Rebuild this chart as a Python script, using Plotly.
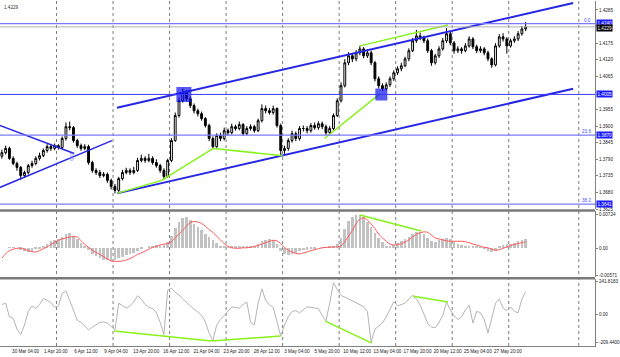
import plotly.graph_objects as go

# ---------------- price data (one candle = 8 hours) ----------------
opens = [
    1.3800, 1.3812, 1.3826, 1.3793, 1.3776, 1.3763, 1.3736, 1.3746, 1.3769, 1.3776,
    1.3793, 1.3802, 1.3819, 1.3832, 1.3826, 1.3835, 1.3829, 1.3859, 1.3898, 1.3895,
    1.3852, 1.3835, 1.3826, 1.3832, 1.3779, 1.3753, 1.3746, 1.3736, 1.3740, 1.3720,
    1.3700, 1.3687, 1.3726, 1.3746, 1.3753, 1.3746, 1.3753, 1.3786, 1.3793, 1.3786,
    1.3793, 1.3779, 1.3769, 1.3753, 1.3733, 1.3786, 1.3852, 1.3935, 1.3984, 1.4011,
    1.3991, 1.3968, 1.3951, 1.3941, 1.3925, 1.3902, 1.3859, 1.3832, 1.3869, 1.3859,
    1.3885, 1.3878, 1.3898, 1.3892, 1.3905, 1.3875, 1.3892, 1.3898, 1.3885, 1.3918,
    1.3958, 1.3951, 1.3945, 1.3958, 1.3902, 1.3819, 1.3826, 1.3852, 1.3875, 1.3859,
    1.3892, 1.3892, 1.3885, 1.3902, 1.3895, 1.3908, 1.3898, 1.3878, 1.3892, 1.3935,
    1.3984, 1.4034, 1.4110, 1.4133, 1.4123, 1.4143, 1.4156, 1.4133, 1.4143, 1.4110,
    1.4057, 1.4034, 1.4024, 1.4037, 1.4057, 1.4077, 1.4090, 1.4100, 1.4123, 1.4150,
    1.4183, 1.4199, 1.4192, 1.4183, 1.4150, 1.4110, 1.4133, 1.4156, 1.4183, 1.4206,
    1.4176, 1.4150, 1.4156, 1.4150, 1.4166, 1.4189, 1.4163, 1.4150, 1.4156, 1.4143,
    1.4123, 1.4103, 1.4166, 1.4196, 1.4189, 1.4166, 1.4183, 1.4189, 1.4206, 1.4222,
]
highs = [
    1.3822, 1.3835, 1.3832, 1.3800, 1.3782, 1.3768, 1.3752, 1.3775, 1.3785, 1.3800,
    1.3812, 1.3826, 1.3840, 1.3838, 1.3842, 1.3840, 1.3866, 1.3912, 1.3915, 1.3900,
    1.3858, 1.3842, 1.3840, 1.3838, 1.3785, 1.3760, 1.3755, 1.3748, 1.3746, 1.3726,
    1.3708, 1.3732, 1.3755, 1.3762, 1.3760, 1.3765, 1.3795, 1.3805, 1.3800, 1.3808,
    1.3800, 1.3790, 1.3775, 1.3760, 1.3792, 1.3860, 1.3945, 1.3995, 1.4024, 1.4018,
    1.3998, 1.3975, 1.3958, 1.3948, 1.3930, 1.3908, 1.3866, 1.3876, 1.3878, 1.3895,
    1.3892, 1.3908, 1.3905, 1.3915, 1.3910, 1.3900, 1.3906, 1.3904, 1.3925, 1.3972,
    1.3968, 1.3960, 1.3968, 1.3962, 1.3908, 1.3835, 1.3860, 1.3885, 1.3882, 1.3900,
    1.3902, 1.3900, 1.3910, 1.3912, 1.3916, 1.3915, 1.3905, 1.3900, 1.3942, 1.3992,
    1.4045, 1.4122, 1.4145, 1.4142, 1.4152, 1.4166, 1.4162, 1.4155, 1.4150, 1.4116,
    1.4065, 1.4042, 1.4045, 1.4065, 1.4085, 1.4098, 1.4110, 1.4130, 1.4158, 1.4192,
    1.4219, 1.4210, 1.4200, 1.4190, 1.4156, 1.4140, 1.4165, 1.4192, 1.4225, 1.4212,
    1.4182, 1.4165, 1.4162, 1.4175, 1.4198, 1.4195, 1.4170, 1.4165, 1.4162, 1.4150,
    1.4128, 1.4175, 1.4205, 1.4208, 1.4195, 1.4190, 1.4198, 1.4215, 1.4232, 1.4245,
]
lows = [
    1.3792, 1.3806, 1.3788, 1.3770, 1.3752, 1.3722, 1.3728, 1.3740, 1.3762, 1.3770,
    1.3786, 1.3797, 1.3812, 1.3818, 1.3820, 1.3822, 1.3824, 1.3852, 1.3886, 1.3845,
    1.3828, 1.3818, 1.3820, 1.3772, 1.3745, 1.3738, 1.3728, 1.3730, 1.3712, 1.3690,
    1.3677, 1.3682, 1.3720, 1.3740, 1.3738, 1.3740, 1.3748, 1.3780, 1.3778, 1.3780,
    1.3772, 1.3762, 1.3745, 1.3722, 1.3728, 1.3780, 1.3848, 1.3928, 1.3978, 1.3982,
    1.3960, 1.3942, 1.3932, 1.3918, 1.3895, 1.3850, 1.3826, 1.3828, 1.3850, 1.3852,
    1.3868, 1.3872, 1.3885, 1.3886, 1.3868, 1.3870, 1.3885, 1.3878, 1.3880, 1.3912,
    1.3942, 1.3938, 1.3938, 1.3895, 1.3802, 1.3808, 1.3818, 1.3845, 1.3850, 1.3852,
    1.3882, 1.3876, 1.3878, 1.3888, 1.3888, 1.3890, 1.3870, 1.3872, 1.3886, 1.3930,
    1.3978, 1.4028, 1.4102, 1.4112, 1.4115, 1.4135, 1.4125, 1.4126, 1.4102, 1.4048,
    1.4025, 1.4016, 1.4018, 1.4030, 1.4050, 1.4070, 1.4082, 1.4095, 1.4115, 1.4145,
    1.4176, 1.4185, 1.4175, 1.4142, 1.4100, 1.4104, 1.4126, 1.4150, 1.4176, 1.4168,
    1.4140, 1.4142, 1.4140, 1.4145, 1.4160, 1.4155, 1.4142, 1.4143, 1.4135, 1.4115,
    1.4093, 1.4098, 1.4160, 1.4180, 1.4140, 1.4160, 1.4176, 1.4182, 1.4200, 1.4215,
]
closes = [
    1.3812, 1.3826, 1.3793, 1.3776, 1.3763, 1.3736, 1.3746, 1.3769, 1.3776, 1.3793,
    1.3802, 1.3819, 1.3832, 1.3826, 1.3835, 1.3829, 1.3859, 1.3898, 1.3895, 1.3852,
    1.3835, 1.3826, 1.3832, 1.3779, 1.3753, 1.3746, 1.3736, 1.3740, 1.3720, 1.3700,
    1.3687, 1.3726, 1.3746, 1.3753, 1.3746, 1.3753, 1.3786, 1.3793, 1.3786, 1.3793,
    1.3779, 1.3769, 1.3753, 1.3733, 1.3786, 1.3852, 1.3935, 1.3984, 1.4011, 1.3991,
    1.3968, 1.3951, 1.3941, 1.3925, 1.3902, 1.3859, 1.3832, 1.3869, 1.3859, 1.3885,
    1.3878, 1.3898, 1.3892, 1.3905, 1.3875, 1.3892, 1.3898, 1.3885, 1.3918, 1.3958,
    1.3951, 1.3945, 1.3958, 1.3902, 1.3819, 1.3826, 1.3852, 1.3875, 1.3859, 1.3892,
    1.3892, 1.3885, 1.3902, 1.3895, 1.3908, 1.3898, 1.3878, 1.3892, 1.3935, 1.3984,
    1.4034, 1.4110, 1.4133, 1.4123, 1.4143, 1.4156, 1.4133, 1.4143, 1.4110, 1.4057,
    1.4034, 1.4024, 1.4037, 1.4057, 1.4077, 1.4090, 1.4100, 1.4123, 1.4150, 1.4183,
    1.4199, 1.4192, 1.4183, 1.4150, 1.4110, 1.4133, 1.4156, 1.4183, 1.4206, 1.4176,
    1.4150, 1.4156, 1.4150, 1.4166, 1.4189, 1.4163, 1.4150, 1.4156, 1.4143, 1.4123,
    1.4103, 1.4166, 1.4196, 1.4189, 1.4166, 1.4183, 1.4189, 1.4206, 1.4222, 1.4229,
]

# ---------------- MACD (units of 0.0001) ----------------
macd_hist_e4 = [
    0, 0, 1, 1, 0, -4, -7, -8, -6, -3,
    -1, 2, 8, 14, 17, 19, 24, 30, 32, 25,
    18, 10, 3, -4, -12, -18, -22, -25, -26, -27,
    -26, -22, -19, -16, -13, -10, -6, -3, 0, 3,
    5, 6, 5, 6, 12, 25, 42, 55, 64, 66,
    60, 52, 45, 38, 30, 24, 16, 10, 5, 2,
    1, 2, 2, 3, 2, 2, 3, 5, 9, 14,
    17, 18, 16, 8, -6, -14, -15, -12, -10, -7,
    -5, -4, -2, -1, 0, 1, 1, 2, 3, 8,
    22, 40, 58, 66, 70, 71, 66, 55, 45, 32,
    22, 12, 5, 4, 6, 10, 14, 18, 24, 30,
    35, 34, 30, 22, 14, 13, 16, 20, 21, 18,
    12, 8, 6, 5, 4, 3, 2, 1, -2, -6,
    -9, -6, 2, 6, 8, 9, 11, 14, 17, 19,
]
macd_signal_e4 = [
    -21, -12, -5, -2, 0, 0, -2, -5, -7, -8,
    -5, -1, 3, 8, 13, 17, 20, 22, 24, 25,
    24, 16, 8, 2, -4, -9, -13, -18, -23, -27,
    -28, -28, -27, -25, -22, -18, -13, -10, -6, -2,
    2, 4, 7, 9, 10, 14, 22, 30, 38, 48,
    55, 57, 56, 53, 47, 40, 34, 26, 18, 10,
    4, 1, 0, 0, 1, 1, 2, 4, 6, 9,
    12, 15, 17, 16, 10, 2, -4, -8, -11, -12,
    -10, -8, -5, -3, -1, 1, 2, 2, 3, 3,
    5, 14, 26, 38, 52, 62, 65, 60, 52, 42,
    30, 22, 15, 9, 7, 8, 10, 13, 18, 24,
    30, 33, 35, 34, 28, 22, 20, 18, 16, 15,
    15, 15, 15, 14, 12, 9, 7, 4, 2, 1,
    -2, -4, -3, 0, 3, 6, 8, 10, 12, 14,
]

# ---------------- CCI ----------------
cci = [
    70, 80, -20, -30, -110, -150, -80, 20, 60, 40,
    70, 115, 100, 85, 50, 60, 150, 170, 100, 20,
    -45, -60, -85, -115, -95, -80, -60, -58, -65, -90,
    -117, 80, 60, 44, 60, 90, 135, 110, 70, 50,
    40, 10, -60, -150, 175, 190, 160, 140, 110, 88,
    60, 35, 17, -10, -56, -140, -195, -80, -40, -10,
    25, 53, 48, 44, 70, 88, -60, -80, 80, 185,
    100, 66, 50, -60, -160, -80, -20, 20, 25, 10,
    30, 53, 50, 46, 40, -10, -50, 80, 230, 180,
    135, 125, 110, 100, 85, 70, 55, 20, -205, -110,
    -85, -65, -20, 40, 90, 60, 70, 80, 110, 139,
    110, 66, 0, -70, -95, -100, -60, -10, 88, 30,
    -10, -40, -20, 30, 66, -66, 20, 10, -40, -139,
    -30, 80, 110, 44, 25, 53, 20, 10, 110, 163,
]

# ---------------- time labels ----------------
time_labels = ["30 Mar 04:00", "1 Apr 20:00", "6 Apr 12:00", "9 Apr 04:00",
               "13 Apr 20:00", "16 Apr 12:00", "21 Apr 04:00", "23 Apr 20:00",
               "28 Apr 12:00", "3 May 04:00", "5 May 20:00", "10 May 12:00",
               "13 May 04:00", "17 May 20:00", "20 May 12:00", "25 May 04:00",
               "27 May 20:00"]
first_label_idx = 6.3        # candle index of first label
candles_per_label = 8        # 64 trading hours / 8h
week_grid_idx = [14.5 + 15 * m for m in range(9)] + [153.1]

price_ticks = [1.4285, 1.4175, 1.4120, 1.4065, 1.3955, 1.3900, 1.3845,
               1.3790, 1.3735, 1.3680, 1.3625]

# ---------------- drawn objects (index, price) ----------------
fib_levels = [1.4240, 1.3870, 1.3641]
fib_names = ["0.0", "23.6", "38.2"]
hline_level = 1.4005
bid_price = 1.4229

upper_channel_idx, upper_channel_price = [30.55, 151.6], [1.3961, 1.4308]
lower_channel_idx, lower_channel_price = [30.55, 151.6], [1.3677, 1.4024]
tri_down_idx, tri_down_price = [-2, 19.2], [1.3909, 1.3809]
tri_up_idx, tri_up_price = [-2, 29.2], [1.3689, 1.3852]

green_main = [
    ([30.55, 42.4, 56.1], [1.3677, 1.3720, 1.3826]),
    ([56.1, 74.5], [1.3826, 1.3802]),
    ([85.6, 100.3], [1.3859, 1.4007]),
    ([95.0, 118.4], [1.4166, 1.4235]),
]
green_macd = [([95.0, 111.3], [71, 37])]
green_cci = [
    ([29.8, 55.6], [-124, -197]),
    ([55.6, 74.0], [-197, -161]),
    ([85.8, 98.2], [-51, -212]),
    ([109.2, 118.4], [131, 88]),
]
signal_box_idx = [48.3, 100.7]
signal_box_price = [1.4005, 1.4005]
signal_box_size = [15, 12]
down_arrow_idx, down_arrow_price = 18.4, 1.3796

# ---------------- figure ----------------
idx = list(range(len(closes)))
BLUE = "#2626e6"
GREEN = "#86f21a"
FS = 4.6

fig = go.Figure()

fig.add_trace(go.Candlestick(
    x=idx, open=opens, high=highs, low=lows, close=closes,
    increasing=dict(line=dict(color="black", width=1), fillcolor="white"),
    decreasing=dict(line=dict(color="black", width=1), fillcolor="black"),
    whiskerwidth=0, xaxis="x", yaxis="y", hoverinfo="none"))

def line(xs, ys, color, width, xa="x", ya="y", shape="linear"):
    fig.add_trace(go.Scatter(x=xs, y=ys, mode="lines", xaxis=xa, yaxis=ya,
                             line=dict(color=color, width=width, shape=shape),
                             hoverinfo="skip"))

line(upper_channel_idx, upper_channel_price, BLUE, 2)
line(lower_channel_idx, lower_channel_price, BLUE, 2)
line(tri_down_idx, tri_down_price, BLUE, 1.5)
line(tri_up_idx, tri_up_price, BLUE, 1.5)
for xs, ys in green_main:
    line(xs, ys, GREEN, 1.5)

fig.add_trace(go.Scatter(
    x=signal_box_idx, y=signal_box_price, mode="markers", xaxis="x", yaxis="y",
    marker=dict(symbol="square", size=signal_box_size, color="#1010f0",
                line=dict(width=0)), hoverinfo="skip"))

# MACD
fig.add_trace(go.Bar(x=idx, y=macd_hist_e4, xaxis="x2", yaxis="y2", width=0.7,
                     marker=dict(color="#c2c2c2", line=dict(width=0)), hoverinfo="skip"))
line(idx, macd_signal_e4, "#ff5a5a", 1, "x2", "y2", "spline")
for xs, ys in green_macd:
    line(xs, ys, GREEN, 1.5, "x2", "y2")

# CCI
line(idx, cci, "#b4b4b4", 1, "x3", "y3")
for xs, ys in green_cci:
    line(xs, ys, GREEN, 1.5, "x3", "y3")

shapes = []
for g in week_grid_idx:
    shapes.append(dict(type="line", xref="x", yref="paper", x0=g, x1=g, y0=0, y1=1,
                       line=dict(color="#7c7c7c", width=1, dash="dot"), layer="below"))
for lv in fib_levels:
    shapes.append(dict(type="line", xref="paper", yref="y", x0=0, x1=1, y0=lv, y1=lv,
                       line=dict(color="#7a7aff", width=1.3)))
shapes.append(dict(type="line", xref="paper", yref="y", x0=0, x1=1,
                   y0=hline_level, y1=hline_level, line=dict(color="#3a3aff", width=1)))
shapes.append(dict(type="line", xref="paper", yref="y", x0=0, x1=1,
                   y0=bid_price, y1=bid_price, line=dict(color="#b0b0b0", width=1)))
for yp in (1 - 210 / 346, 1 - 278 / 346):
    shapes.append(dict(type="line", xref="paper", yref="paper", x0=0, x1=1, y0=yp, y1=yp,
                       line=dict(color="#7a7a7a", width=2.5)))

annotations = []
for lv, nm in zip(fib_levels, fib_names):
    annotations.append(dict(xref="paper", yref="y", x=0.997, y=lv, text=nm,
                            xanchor="right", yanchor="bottom", showarrow=False,
                            font=dict(size=FS, color="#4a4aff"), yshift=-1))
for lv, bg in [(fib_levels[0], "#1a1aff"), (bid_price, "black"), (hline_level, "#1a1aff"),
               (fib_levels[1], "#1a1aff"), (fib_levels[2], "#1a1aff")]:
    yshift = -1 if lv == bid_price else (1 if lv == fib_levels[0] else 0)
    annotations.append(dict(xref="paper", yref="y", x=1, y=lv, text=f"{lv:.4f}",
                            xanchor="left", yanchor="middle", showarrow=False,
                            bgcolor=bg, borderpad=0.5, xshift=1, yshift=yshift,
                            font=dict(size=FS, color="white")))
annotations.append(dict(xref="paper", yref="paper", x=0.003, y=1, text=f"{bid_price:.4f}",
                        xanchor="left", yanchor="top", showarrow=False, yshift=-2,
                        font=dict(size=FS, color="#333333")))
annotations.append(dict(xref="x", yref="y", x=down_arrow_idx, y=down_arrow_price,
                        text="⇩", showarrow=False, font=dict(size=11, color="#7e95ff")))

xcommon = dict(range=[-0.5, 157.4], domain=[0, 1], showgrid=False, zeroline=False,
               fixedrange=True)
ycommon = dict(side="right", showgrid=False, zeroline=False, showline=True,
               linecolor="#808080", linewidth=1, ticks="outside", ticklen=2,
               tickcolor="#808080", tickfont=dict(size=FS, color="#222"), fixedrange=True)

fig.update_layout(
    width=620, height=357,
    margin=dict(l=0, r=20, t=0, b=11),
    paper_bgcolor="white", plot_bgcolor="white",
    showlegend=False, hovermode=False,
    font=dict(family="Liberation Sans", size=FS, color="#222"),
    bargap=0,
    xaxis=dict(**xcommon, anchor="y", showticklabels=False,
               rangeslider=dict(visible=False)),
    xaxis2=dict(**xcommon, anchor="y2", matches="x", showticklabels=False),
    xaxis3=dict(**xcommon, anchor="y3", matches="x",
                tickvals=[first_label_idx + candles_per_label * k for k in range(len(time_labels))],
                ticktext=time_labels, tickangle=0, showline=True, linecolor="#808080",
                ticks="", tickfont=dict(size=FS, color="#222")),
    yaxis=dict(**ycommon, domain=[1 - 209 / 346, 1], range=[1.36238, 1.43148],
               tickvals=price_ticks, tickformat=".4f"),
    yaxis2=dict(**ycommon, domain=[1 - 277 / 346, 1 - 211 / 346], range=[-61.8, 78.8],
                tickvals=[72.4, 0, -57.1], ticktext=["0.00724", "0.00", "-0.00571"]),
    yaxis3=dict(**ycommon, domain=[0, 1 - 279 / 346], range=[-233.6, 255.5],
                tickvals=[241.8183, 0, -209.44], ticktext=["241.8183", "0.00", "-209.4400"]),
    shapes=shapes, annotations=annotations,
)

fig.write_html("out.html", config={"displayModeBar": False},
               post_script="document.body.style.margin='0px';document.body.style.overflow='hidden';")
